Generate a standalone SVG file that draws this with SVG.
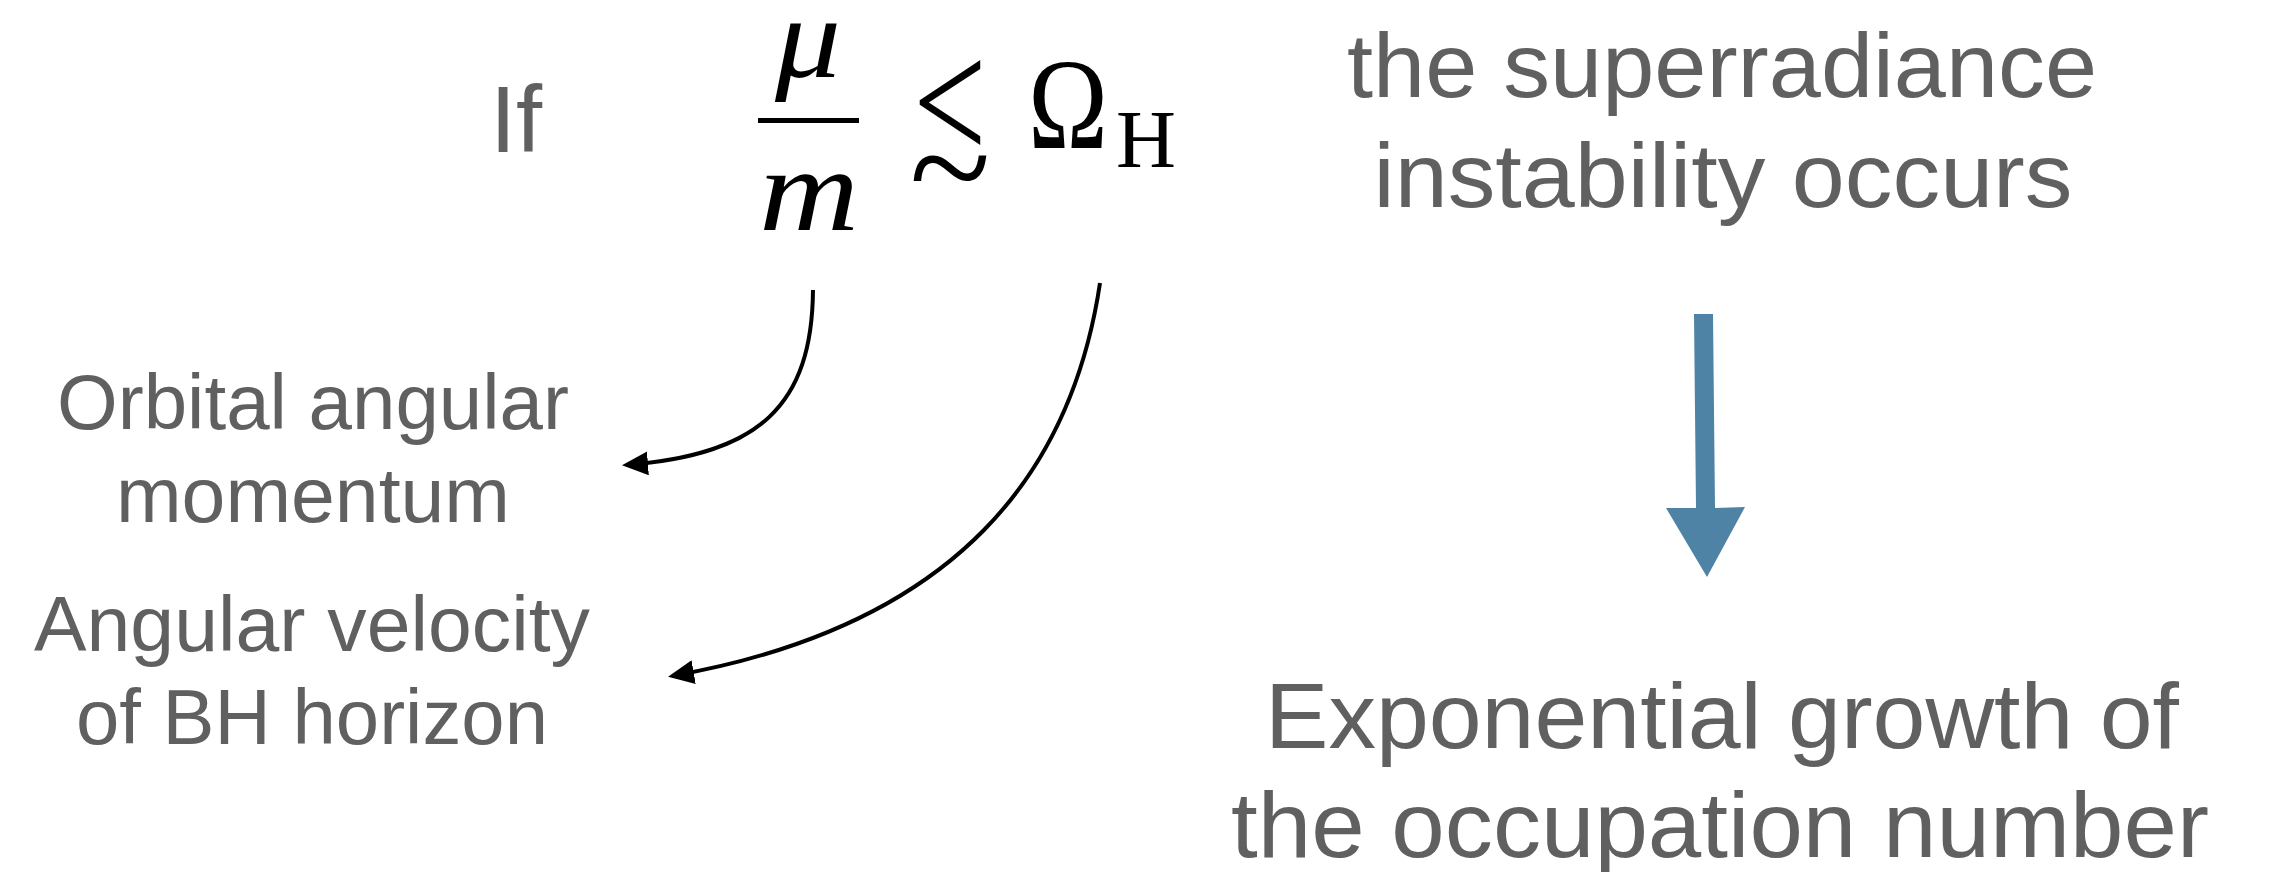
<svg xmlns="http://www.w3.org/2000/svg" width="2269" height="872" viewBox="0 0 2269 872">
<style>
.t{font-family:"Liberation Sans",Arial,sans-serif;fill:#606060;text-anchor:middle}
.l{font-size:77px}
.r{font-size:91px}
.m{font-family:"Liberation Serif","Times New Roman",serif;fill:#000;text-anchor:middle}
.i{font-style:italic}
.c{fill:none;stroke:#000;stroke-width:4}
</style>
<defs>
<marker id="ah" viewBox="0 0 26 24" refX="22" refY="12" markerWidth="26" markerHeight="24" markerUnits="userSpaceOnUse" orient="auto">
<path d="M0,0 L26,12 L0,24 Z" fill="#000"/>
</marker>
</defs>
<rect width="2269" height="872" fill="#fff"/>
<g id="if"><text class="t" x="490" y="152" style="font-size:94px;text-anchor:start">If</text></g>
<g id="formula">
<text class="m i" x="808" y="77" textLength="66" lengthAdjust="spacingAndGlyphs" style="font-size:116px">μ</text>
<rect x="758" y="118" width="101" height="5" fill="#000"/>
<text class="m i" x="809" y="230" textLength="100" lengthAdjust="spacingAndGlyphs" style="font-size:118px">m</text>
<text class="m" transform="translate(950,161) scale(1,1.35)" x="0" y="0" style="font-size:130px">&lt;</text>
<text class="m" x="950" y="218" style="font-size:150px">~</text>
<text class="m" x="1068" y="148" textLength="80" lengthAdjust="spacingAndGlyphs" style="font-size:130px">Ω</text>
<text class="m" x="1146" y="167" style="font-size:83px">H</text>
</g>
<g id="orbital">
<text class="t l" x="313" y="429" textLength="512" lengthAdjust="spacingAndGlyphs">Orbital angular</text>
<text class="t l" x="313" y="522" textLength="394" lengthAdjust="spacingAndGlyphs">momentum</text>
</g>
<g id="angular">
<text class="t l" x="312" y="651" textLength="556" lengthAdjust="spacingAndGlyphs">Angular velocity</text>
<text class="t l" x="312" y="744" textLength="472" lengthAdjust="spacingAndGlyphs">of BH horizon</text>
</g>
<g id="instability">
<text class="t r" x="1722" y="97" textLength="750" lengthAdjust="spacingAndGlyphs">the superradiance</text>
<text class="t r" x="1723" y="207" textLength="699" lengthAdjust="spacingAndGlyphs">instability occurs</text>
</g>
<g id="growth">
<text class="t" x="1722" y="748" style="font-size:92px" textLength="914" lengthAdjust="spacingAndGlyphs">Exponential growth of</text>
<text class="t" x="1720" y="857" style="font-size:92px" textLength="978" lengthAdjust="spacingAndGlyphs">the occupation number</text>
</g>
<g id="connectors">
<path class="c" d="M813,290 C812,405 760,455 626,465" marker-end="url(#ah)"/>
<path class="c" d="M1100,283 C1072,470 960,625 672,676" marker-end="url(#ah)"/>
<polygon points="1694,314 1713,314 1715,508 1745,507 1707,577 1666,508 1696,508" fill="#4e83a6"/>
</g>
</svg>
